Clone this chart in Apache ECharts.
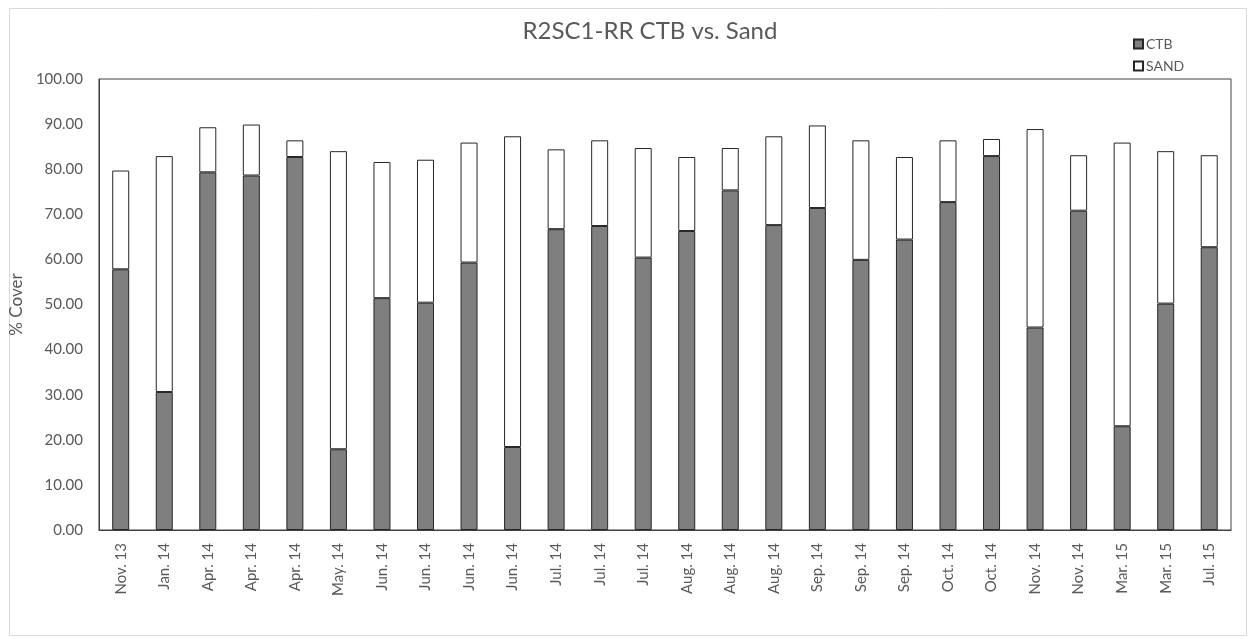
<!DOCTYPE html>
<html>
<head>
<meta charset="utf-8">
<script src="https://cdn.jsdelivr.net/npm/echarts@6/dist/echarts.min.js"></script>
<style>
html,body{margin:0;padding:0;background:#fff;}
#chart{width:1249px;height:639px;}
</style>
</head>
<body>
<div id="chart"></div>
<script>
const categories = ['Nov. 13','Jan. 14','Apr. 14','Apr. 14','Apr. 14','May. 14','Jun. 14','Jun. 14','Jun. 14','Jun. 14','Jul. 14','Jul. 14','Jul. 14','Aug. 14','Aug. 14','Aug. 14','Sep. 14','Sep. 14','Sep. 14','Oct. 14','Oct. 14','Nov. 14','Nov. 14','Mar. 15','Mar. 15','Jul. 15'];
const ctbValues = [57.8, 30.6, 79.3, 78.6, 82.7, 17.9, 51.4, 50.4, 59.3, 18.4, 66.7, 67.4, 60.4, 66.3, 75.3, 67.6, 71.4, 59.9, 64.4, 72.7, 82.9, 44.9, 70.8, 23.0, 50.2, 62.7];
const sandValues = [21.9, 52.3, 10.0, 11.3, 3.7, 66.1, 30.2, 31.7, 26.6, 68.9, 17.7, 19.0, 24.3, 16.4, 9.4, 19.7, 18.3, 26.5, 18.3, 13.7, 3.8, 44.0, 12.3, 62.9, 33.8, 20.4];
const yTicks = {min: 0, max: 100, interval: 10};

const font = 'Lato, "Open Sans", sans-serif';
const chart = echarts.init(document.getElementById('chart'), null, {renderer: 'canvas'});
chart.setOption({
  backgroundColor: '#ffffff',
  animation: false,
  graphic: [{
    type: 'rect', left: 7, top: 6, shape: {width: 1237, height: 627},
    style: {fill: 'none', stroke: '#d9d9d9', lineWidth: 1}, z: -1
  }],
  title: {
    text: 'R2SC1-RR CTB vs. Sand',
    left: 645, top: 14, textAlign: 'center',
    textStyle: {fontFamily: font, fontSize: 24, fontWeight: 'normal', color: '#595959'}
  },
  legend: {
    orient: 'vertical', left: 1128, top: 32,
    itemWidth: 9, itemHeight: 9, itemGap: 8,
    icon: 'rect',
    textStyle: {fontFamily: font, fontSize: 14, color: '#595959', padding: [0,0,0,-2]},
    data: ['CTB', 'SAND']
  },
  grid: {left: 98, right: 18, top: 79, bottom: 109, show: true, borderColor: '#404040', borderWidth: 1},
  xAxis: {
    type: 'category', data: categories,
    axisLine: {show: true, lineStyle: {color: '#404040'}},
    axisTick: {show: false},
    axisLabel: {rotate: 90, interval: 0, margin: 13, fontFamily: font, fontSize: 15, color: '#595959'}
  },
  yAxis: {
    type: 'value', min: yTicks.min, max: yTicks.max, interval: yTicks.interval,
    name: '% Cover', nameLocation: 'middle', nameGap: 66,
    nameTextStyle: {fontFamily: font, fontSize: 17, color: '#595959'},
    axisLine: {show: true, lineStyle: {color: '#404040'}},
    axisTick: {show: false},
    splitLine: {show: false},
    axisLabel: {margin: 16, fontFamily: font, fontSize: 15, color: '#595959', formatter: v => v.toFixed(2)}
  },
  series: [
    {name: 'CTB', type: 'bar', stack: 'total', data: ctbValues, barWidth: 17,
     itemStyle: {color: '#7f7f7f', borderColor: '#262626', borderWidth: 1}},
    {name: 'SAND', type: 'bar', stack: 'total', data: sandValues, barWidth: 17,
     itemStyle: {color: '#ffffff', borderColor: '#262626', borderWidth: 1}}
  ]
});
</script>
</body>
</html>
